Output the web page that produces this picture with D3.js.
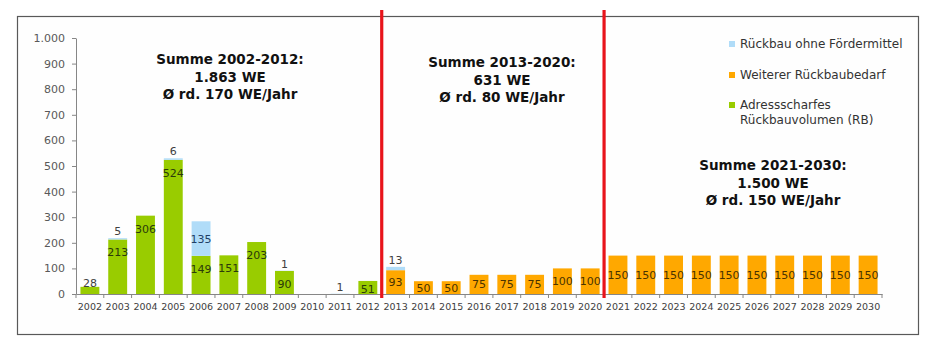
<!DOCTYPE html>
<html>
<head>
<meta charset="utf-8">
<script src="https://cdn.jsdelivr.net/npm/d3@7"></script>
<style>
  html, body { margin: 0; padding: 0; background: #ffffff; }
  svg { display: block; font-family: "DejaVu Sans", Verdana, sans-serif; }
</style>
</head>
<body>
<svg id="chart" width="937" height="355"></svg>
<script>
// ---- Data ----
const years = ["2002","2003","2004","2005","2006","2007","2008","2009","2010","2011","2012",
               "2013","2014","2015","2016","2017","2018","2019","2020",
               "2021","2022","2023","2024","2025","2026","2027","2028","2029","2030"];
// Adressscharfes Rückbauvolumen (RB)
const adressscharf = [28,213,306,524,149,151,203,90,0,0,51,
                      0,0,0,0,0,0,0,0,
                      0,0,0,0,0,0,0,0,0,0];
// Weiterer Rückbaubedarf
const weiterer = [0,0,0,0,0,0,0,0,0,0,0,
                  93,50,50,75,75,75,100,100,
                  150,150,150,150,150,150,150,150,150,150];
// Rückbau ohne Fördermittel
const ohneFoerder = [0,5,0,6,135,0,0,1,0,1,0,
                     13,0,0,0,0,0,0,0,
                     0,0,0,0,0,0,0,0,0,0];
const yTicks = [0,100,200,300,400,500,600,700,800,900,1000];
const seriesNames = ["Rückbau ohne Fördermittel","Weiterer Rückbaubedarf","Adressscharfes\nRückbauvolumen (RB)"];
const dividerAfter = ["2012","2020"];
const annotations = [
  ["Summe 2002-2012:","1.863 WE","Ø rd. 170 WE/Jahr"],
  ["Summe 2013-2020:","631 WE","Ø rd. 80 WE/Jahr"],
  ["Summe 2021-2030:","1.500 WE","Ø rd. 150 WE/Jahr"]
];

// ---- Setup ----
const colors = { green: "#99cc00", orange: "#ffa800", blue: "#b0dcf8" };
const labelColors = { green: "#2b3a0a", orange: "#4a3300", blue: "#1f3f66", out: "#404040" };
const svg = d3.select("#chart");
const de = d3.formatLocale({decimal: ",", thousands: ".", grouping: [3], currency: ["", " €"]});
const fmt = de.format(",d");

const x0 = 76, x1 = 882, yBottom = 294, yTop = 38;
const x = d3.scaleBand().domain(years).range([x0, x1]).paddingInner(0.32).paddingOuter(0.16);
const y = d3.scaleLinear().domain([0, 1000]).range([yBottom, yTop]);
const step = x.step();
const gap = (step - x.bandwidth()) / 2;

// outer border
svg.append("rect").attr("x", 17.5).attr("y", 16.5).attr("width", 901).attr("height", 318)
  .attr("fill", "#fefefe").attr("stroke", "#595959").attr("stroke-width", 1.2);

// rows for stacking
const rows = years.map((yr, i) => ({ year: yr, green: adressscharf[i], orange: weiterer[i], blue: ohneFoerder[i] }));
const stack = d3.stack().keys(["green", "orange", "blue"]);
const layers = stack(rows);

const gBars = svg.append("g");
layers.forEach(layer => {
  gBars.selectAll(null).data(layer.filter(d => d[1] - d[0] > 0)).enter().append("rect")
    .attr("x", d => x(d.data.year))
    .attr("width", x.bandwidth())
    .attr("y", d => y(d[1]))
    .attr("height", d => y(d[0]) - y(d[1]))
    .attr("fill", colors[layer.key]);
});

// axes
const yAxis = d3.axisLeft(y).tickValues(yTicks).tickFormat(fmt).tickSizeInner(4).tickSizeOuter(0).tickPadding(7);
const gy = svg.append("g").attr("transform", `translate(${x0},0)`).call(yAxis);
gy.select(".domain").attr("stroke", "#868686");
gy.selectAll(".tick line").attr("stroke", "#868686");
gy.selectAll(".tick text").attr("fill", "#595959").style("font-size", "11px").style("font-family", "DejaVu Sans, sans-serif");

const xAxis = d3.axisBottom(x).tickSizeInner(0).tickSizeOuter(0).tickPadding(9);
const gx = svg.append("g").attr("transform", `translate(0,${yBottom})`).call(xAxis);
gx.select(".domain").attr("stroke", "#868686");
gx.selectAll(".tick text").attr("fill", "#404040").style("font-size", "9.5px").style("font-family", "DejaVu Sans, sans-serif");
// category boundary ticks
const bounds = years.map(yr => x(yr) - gap).concat([x(years[years.length - 1]) + x.bandwidth() + gap]);
gx.selectAll("line.bt").data(bounds).enter().append("line").attr("class", "bt")
  .attr("x1", d => d).attr("x2", d => d).attr("y1", 0).attr("y2", 4).attr("stroke", "#868686");

// value labels
const gLab = svg.append("g").style("font-size", "11px").attr("text-anchor", "middle");
layers.forEach(layer => {
  layer.filter(d => d[1] - d[0] > 0).forEach(d => {
    const top = y(d[1]), bot = y(d[0]), h = bot - top, v = d[1] - d[0];
    let cy, col;
    if (layer.key === "green") {
      if (h < 10) { cy = top - 4; col = labelColors.out; }
      else { cy = Math.min(top + 13, bot - 5); col = labelColors.green; }
    } else if (layer.key === "orange") {
      cy = (top + bot) / 2; col = labelColors.orange;
    } else {
      if (h >= 20) { cy = (top + bot) / 2; col = labelColors.blue; }
      else { cy = top - 7; col = labelColors.out; }
    }
    gLab.append("text").attr("x", x(d.data.year) + x.bandwidth() / 2).attr("y", cy)
      .attr("dy", "0.36em").attr("fill", col).text(v);
  });
});

// red divider lines
dividerAfter.forEach(yr => {
  const xi = x(yr) + x.bandwidth() + gap;
  svg.append("line").attr("x1", xi).attr("x2", xi).attr("y1", 10).attr("y2", 298)
    .attr("stroke", "#e8141b").attr("stroke-width", 3.2);
});

// annotations
const annPos = [[230, 64], [502, 67], [773, 170]];
annotations.forEach((lines, i) => {
  const t = svg.append("text").attr("x", annPos[i][0]).attr("y", annPos[i][1])
    .attr("text-anchor", "middle").style("font-size", "13.5px").style("font-weight", "bold").attr("fill", "#111");
  lines.forEach((ln, j) => t.append("tspan").attr("x", annPos[i][0]).attr("dy", j === 0 ? 0 : 17.5).text(ln));
});

// legend
const legendItems = [
  { name: seriesNames[0], color: colors.blue, y: 44 },
  { name: seriesNames[1], color: colors.orange, y: 75 },
  { name: seriesNames[2], color: colors.green, y: 105 }
];
const gL = svg.append("g").style("font-size", "12px");
legendItems.forEach(it => {
  gL.append("rect").attr("x", 729).attr("y", it.y - 3).attr("width", 6).attr("height", 6).attr("fill", it.color);
  const t = gL.append("text").attr("x", 740).attr("y", it.y).attr("fill", "#333333");
  it.name.split("\n").forEach((ln, j) => t.append("tspan").attr("x", 740).attr("dy", j === 0 ? "0.36em" : 14.5).text(ln));
});
</script>
</body>
</html>
